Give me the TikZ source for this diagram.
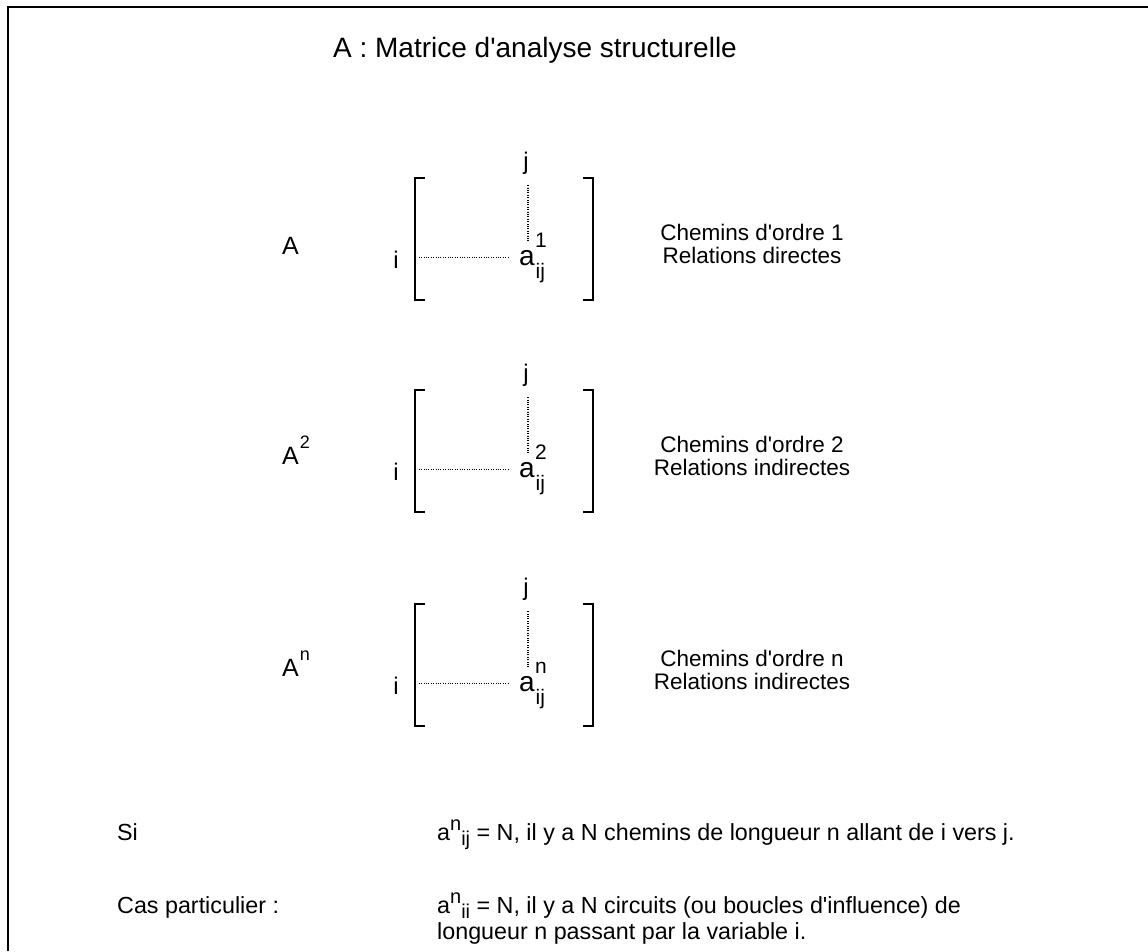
\documentclass[tikz,border=0pt]{standalone}
\usepackage{fontspec}
\setmainfont{Liberation Sans}[Ligatures=TeXOff]
\usetikzlibrary{calc}
\tikzset{
  frame/.style={line width=2.4pt},
  brk/.style={line width=1.8pt},
  dotline/.style={line width=1.2pt, dash pattern=on 1pt off 1.4pt},
  ttl/.style={inner sep=0pt, font=\fontsize{28}{29}\selectfont},
  biglbl/.style={inner sep=0pt, font=\fontsize{25}{26}\selectfont},
  idx/.style={inner sep=0pt, font=\fontsize{24}{24}\selectfont},
  abig/.style={inner sep=0pt, font=\fontsize{28}{28}\selectfont},
  scr/.style={inner sep=0pt, font=\fontsize{21}{21}\selectfont},
  side/.style={inner sep=0pt, font=\fontsize{22.5}{23}\selectfont},
  body/.style={inner sep=0pt, font=\fontsize{23.3}{24}\selectfont},
}
\newcommand\upn[1]{\raisebox{0.42em}{\fontsize{20}{20}\selectfont #1}}
\newcommand\dnn[1]{\raisebox{-0.22em}{\fontsize{20}{20}\selectfont #1}}
\newcommand\Asup[1]{\kern1pt\raisebox{0.62em}{\fontsize{18}{18}\selectfont #1}}
\begin{document}
\begin{tikzpicture}[x=1pt,y=-1pt]
\useasboundingbox (0,0) rectangle (1148,951);
% frame (only top and left edges visible)
\draw[frame] (8,951) -- (8,7) -- (1148,7);
% title
\node[ttl, anchor=base] (title) at (535,57) {A : Matrice d'analyse structurelle};
% matrices
\foreach \k/\T/\s/\ord/\rel in {1/178/1/1/directes, 2/390/2/2/indirectes, 3/604/n/n/indirectes}{
  \draw[brk] (425,\T) -- (415,\T) -- (415,\T+122) -- (425,\T+122);
  \draw[brk] (583,\T) -- (593,\T) -- (593,\T+122) -- (583,\T+122);
  \node[idx, anchor=base] (j\k) at (526,\T-9) {j};
  \node[idx, anchor=base] (i\k) at (396,\T+90) {i};
  \node[abig, anchor=base west] (a\k) at (519,\T+87) {a};
  \node[scr, anchor=base west] (sup\k) at (535,\T+69) {\s};
  \node[scr, anchor=base west] (sub\k) at (535.5,\T+100) {ij};
  \draw[dotline] ($(j\k.south)+(2,11)$) -- ($(j\k.south |- a\k.north)+(2,-8)$);
  \draw[dotline, shorten <=20pt, shorten >=9pt] (a\k.west -| i\k.east) -- (a\k.west);
  \node[side, anchor=base] (ch\k) at (752,\T+62) {Chemins d'ordre \ord};
  \node[side, anchor=base] (rel\k) at (752,\T+85) {Relations \rel};
}
% matrix labels
\node[biglbl, anchor=base west] (A1) at (282,254) {A};
\node[biglbl, anchor=base west] (A2) at (282,464) {A\Asup{2}};
\node[biglbl, anchor=base west] (A3) at (282,676) {A\Asup{n}};
% bottom text
\node[body, anchor=base west] (si) at (117,840) {Si};
\node[body, anchor=base west] (siT) at (437,840) {a\upn{n}\dnn{ij} = N, il y a N chemins de longueur n allant de i vers j.};
\node[body, anchor=base west] (cas) at (117,913) {Cas particulier :};
\node[body, anchor=base west] (casT1) at (437,913) {a\upn{n}\dnn{ii} = N, il y a N circuits (ou boucles d'influence) de};
\node[body, anchor=base west] (casT2) at (437,939) {longueur n passant par la variable i.};
\end{tikzpicture}
\end{document}
